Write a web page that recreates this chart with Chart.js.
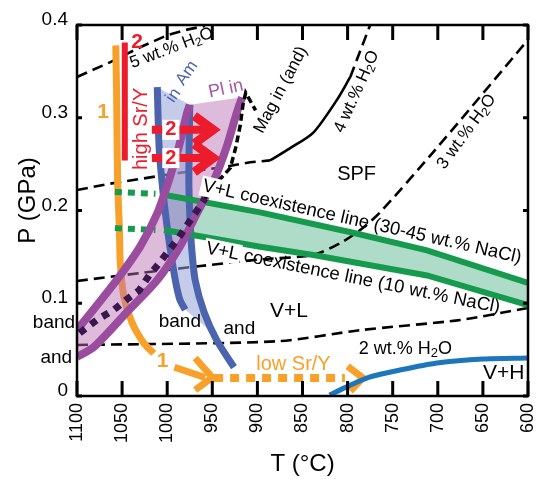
<!DOCTYPE html>
<html>
<head>
<meta charset="utf-8">
<script src="https://cdn.jsdelivr.net/npm/chart.js"></script>
<style>
html, body { margin: 0; padding: 0; background: #fff; }
</style>
</head>
<body>
<canvas id="pt" width="537" height="479"></canvas>
<script>
// axis ticks
const xTicks = [1100, 1050, 1000, 950, 900, 850, 800, 750, 700, 650, 600];
const yTicks = ['0', '0.1', '0.2', '0.3', '0.4'];

// [T (°C), P (GPa)]
const h2o5 = [[1100, 0.344], [1063, 0.360], [1030, 0.376], [1000, 0.389], [978, 0.395], [958, 0.399]];
const h2o4 = [[1100, 0.222], [1063, 0.229], [1030, 0.234], [991, 0.240], [936, 0.247], [908, 0.252], [886, 0.254]];
const magSolid = [[886, 0.254], [864, 0.267], [838, 0.284], [812, 0.319], [797, 0.344]];
const h2o4Top = [[797, 0.344], [775, 0.400]];
const h2o3 = [[1100, 0.124], [1026, 0.133], [900, 0.147], [838, 0.152], [808, 0.165], [786, 0.179], [764, 0.198], [705, 0.263], [600, 0.384]];
const h2o2 = [[1100, 0.055], [878, 0.059], [786, 0.071], [675, 0.082], [600, 0.095]];

// V+L coexistence lines
const vl30 = [[1003.5, 0.217], [897, 0.198], [794, 0.176], [712, 0.157], [600, 0.122]];
const vl10 = [[1003.5, 0.179], [897, 0.161], [838, 0.152], [712, 0.130], [600, 0.098]];
const vl30Dots = [[1058, 0.220], [1013, 0.218]];
const vl10Dots = [[1058, 0.181], [1013, 0.179]];

// Pl in band
const plLeft = [[1100, 0.071], [1056, 0.125], [1030, 0.161], [1011, 0.197], [998, 0.233], [987, 0.269], [978, 0.305], [975, 0.314]];
const plRight = [[1100, 0.042], [1081, 0.053], [1045, 0.090], [1011, 0.125], [986, 0.161], [967, 0.197], [948, 0.233], [934, 0.269], [923, 0.305], [917, 0.322]];

// Am in band
const amLeft = [[1011, 0.333], [1009, 0.269], [1006, 0.233], [1002, 0.197], [997, 0.161], [991, 0.125], [986, 0.104], [980, 0.093]];
const amRight = [[975, 0.314], [976, 0.233], [975, 0.197], [973, 0.161], [969, 0.125], [959, 0.090], [945, 0.060], [926, 0.031]];
const amFoot = [953, 0.071];

// Mag in (and)
const magDots = [[1097, 0.068], [1078, 0.082], [1059, 0.093], [1045, 0.104], [1031, 0.114], [1020, 0.130], [1009, 0.143], [998, 0.157], [987, 0.171], [976, 0.187], [958, 0.213]];
const magDash = [[958, 0.213], [944, 0.231], [930, 0.246], [924, 0.268], [919, 0.292], [916, 0.314], [913, 0.327], [902, 0.308]];

// path 1 (orange)
const path1 = [[1057, 0.378], [1056, 0.320], [1055, 0.233], [1053, 0.180], [1052, 0.143], [1048, 0.107], [1039, 0.079], [1026, 0.057], [1015, 0.046]];
const path1Arrow = [[992, 0.031], [958, 0.020]];
const path1Head = [[969, 0.041], [950, 0.020], [969, 0.0065]];
const lowSrY = [[948, 0.0194], [803, 0.0194]];
const lowHead = [[800, 0.032], [783, 0.0194], [797, 0.0054]];

// path 2 (red)
const path2 = [[1047, 0.381], [1047, 0.254]];
const arrowA = [[1017, 0.287], [955, 0.287]];
const arrowB = [[1017, 0.2565], [955, 0.2565]];
const headA = [[970, 0.302], [949, 0.287], [970, 0.272]];
const headB = [[970, 0.2715], [949, 0.2565], [970, 0.2415]];

// V+H boundary
const vh = [[820, 0.001], [803, 0.009], [775, 0.0205], [742, 0.028], [701, 0.0356], [650, 0.040], [600, 0.041]];

const ORANGE = '#f7a12a', RED = '#ec1c2d', PURPLE = '#9a4d9e', BLUE = '#4c63ae', GREEN = '#169a4d';

const pts = a => a.map(([x, y]) => ({x, y}));
function ln(data, color, width, extra) {
    return Object.assign({
        data: pts(data), borderColor: color, borderWidth: width,
        pointRadius: 0, fill: false, tension: 0
    }, extra || {});
}
function shape(poly, color) {
    const p = poly.concat([poly[0]]);
    return { data: pts(p), borderColor: 'transparent', borderWidth: 0, backgroundColor: color, fill: 'shape', pointRadius: 0, tension: 0 };
}
const dash = { borderDash: [11, 6] };
const curve = { tension: 0.25 };

// bottom first
const datasets = [
    shape(vl30.concat(vl10.slice().reverse()), '#afdcc8'),
    ln(h2o5, '#000', 2.6, dash),
    ln(h2o4, '#000', 2.6, dash),
    ln(magSolid, '#000', 2.6, curve),
    ln(h2o4Top, '#000', 2.6, dash),
    ln(h2o3, '#000', 2.6, Object.assign({tension: 0.25}, dash)),
    ln(h2o2, '#000', 2.6, Object.assign({tension: 0.25}, dash)),
    ln(path1, ORANGE, 7, curve),
    ln(path1Arrow, ORANGE, 7),
    ln(path1Head, ORANGE, 7),
    ln(lowSrY, ORANGE, 8, {borderDash: [9, 7]}),
    ln(lowHead, ORANGE, 7),
    shape(plLeft.concat(plRight.slice().reverse()), 'rgba(188,110,178,0.47)'),
    shape(amLeft.concat([amFoot], amRight.slice(0, 6).reverse()), 'rgba(150,162,215,0.55)'),
    ln(amLeft, BLUE, 7, curve),
    ln(amRight, BLUE, 7, curve),
    ln(vl30Dots, GREEN, 6, {borderDash: [7, 6]}),
    ln(vl10Dots, GREEN, 6, {borderDash: [7, 6]}),
    ln(vl30, GREEN, 6),
    ln(vl10, GREEN, 6),
    ln(plLeft, PURPLE, 8, curve),
    ln(plRight, PURPLE, 8, curve),
    ln(magDots, '#3b1650', 7, {borderDash: [7, 7]}),
    ln(magDash, '#000', 3.5, {borderDash: [7, 4]}),
    ln(path2, RED, 6),
    ln(arrowA, RED, 8),
    ln(arrowB, RED, 8),
    ln(headA, RED, 9),
    ln(headB, RED, 9),
    ln(vh, '#1c76bc', 5, curve)
];
datasets.forEach((d, i) => { d.order = datasets.length - i; });

// text labels, placed in T/P units
const notes = [
    {t: '5 wt.% H_2O', x: 995, y: 0.375, rot: -21, size: 17},
    {t: '4 wt.% H_2O', x: 790, y: 0.328, rot: -66, size: 17},
    {t: '3 wt.% H_2O', x: 668, y: 0.285, rot: -54, size: 17},
    {t: 'Mag in (and)', x: 874, y: 0.330, rot: -62, size: 17},
    {t: 'SPF', x: 790, y: 0.239, size: 20},
    {t: 'V+L coexistence line (30-45 wt.% NaCl)', x: 784, y: 0.1876, rot: 12.8, size: 18.5, bg: 'V+L'},
    {t: 'V+L coexistence line (10 wt.% NaCl)', x: 794, y: 0.1272, rot: 11.5, size: 18.5, bg: 'V+L'},
    {t: 'V+L', x: 865, y: 0.0916, size: 21},
    {t: '2 wt.% H_2O', x: 736, y: 0.0507, size: 18},
    {t: 'V+H', x: 627, y: 0.0248, size: 21},
    {t: 'low Sr/Y', x: 860, y: 0.0345, size: 20, color: ORANGE},
    {t: 'band', x: 986, y: 0.080, size: 19},
    {t: 'and', x: 920, y: 0.073, size: 19},
    {t: 'band', x: 1125.5, y: 0.0787, size: 19},
    {t: 'and', x: 1123, y: 0.041, size: 19},
    {t: '1', x: 1071, y: 0.306, size: 21, bold: true, color: ORANGE},
    {t: '1', x: 1005, y: 0.037, size: 21, bold: true, color: ORANGE},
    {t: '2', x: 1033.5, y: 0.3817, size: 21, bold: true, color: RED},
    {t: '2', x: 996, y: 0.287, size: 20, bold: true, color: RED, box: true},
    {t: '2', x: 996, y: 0.2565, size: 20, bold: true, color: RED, box: true},
    {t: 'high Sr/Y', x: 1029, y: 0.288, rot: -90, size: 20, color: RED},
    {t: 'Am', x: 978, y: 0.348, rot: -55, size: 17, color: BLUE},
    {t: 'in', x: 993, y: 0.324, rot: -55, size: 17, color: BLUE},
    {t: 'Pl in', x: 935, y: 0.331, rot: -12, size: 18, color: '#a455a6'}
];

const FAM = '"Liberation Sans", Arial, sans-serif';
function drawNote(ctx, n, xs, ys) {
    const px = xs.getPixelForValue(n.x), py = ys.getPixelForValue(n.y);
    const size = n.size || 18;
    const font = (n.bold ? 'bold ' : '') + size + 'px ' + FAM;
    const subFont = (n.bold ? 'bold ' : '') + Math.round(size * 0.7) + 'px ' + FAM;
    const parts = n.t.split(/_(\d)/);
    ctx.save();
    ctx.translate(px, py);
    ctx.rotate((n.rot || 0) * Math.PI / 180);
    ctx.textBaseline = 'middle';
    ctx.textAlign = 'left';
    let w = 0;
    parts.forEach((p, i) => { ctx.font = i % 2 ? subFont : font; w += ctx.measureText(p).width; });
    let x0 = -w / 2;
    ctx.fillStyle = '#fff';
    if (n.box) ctx.fillRect(x0 - 3, -size * 0.5, w + 6, size * 1.0);
    if (n.bg) { ctx.font = font; ctx.fillRect(x0 - 2, -size * 0.55, ctx.measureText(n.bg).width + 4, size * 1.1); }
    ctx.fillStyle = n.color || '#000';
    parts.forEach((p, i) => {
        ctx.font = i % 2 ? subFont : font;
        ctx.fillText(p, x0, i % 2 ? size * 0.25 : 0);
        x0 += ctx.measureText(p).width;
    });
    ctx.restore();
}

const frame = {
    id: 'frame',
    afterDatasetsDraw(chart) {
        const {ctx, chartArea: a, scales: {x, y}} = chart;
        ctx.save();
        ctx.strokeStyle = '#000';
        ctx.lineWidth = 2.5;
        ctx.strokeRect(a.left, a.top, a.right - a.left, a.bottom - a.top);
        ctx.beginPath();
        x.ticks.forEach(t => {
            const px = x.getPixelForValue(t.value);
            ctx.moveTo(px, a.bottom); ctx.lineTo(px, a.bottom - 15);
            ctx.moveTo(px, a.top); ctx.lineTo(px, a.top + 15);
        });
        y.ticks.forEach(t => {
            const py = y.getPixelForValue(t.value);
            ctx.moveTo(a.left, py); ctx.lineTo(a.left + 5, py);
            ctx.moveTo(a.right, py); ctx.lineTo(a.right - 5, py);
        });
        ctx.lineWidth = 3;
        ctx.stroke();
        ctx.restore();
    },
    afterDraw(chart) {
        const {ctx, scales: {x, y}} = chart;
        notes.forEach(n => drawNote(ctx, n, x, y));
    }
};

Chart.defaults.font.family = FAM;
Chart.defaults.color = '#000';

new Chart(document.getElementById('pt'), {
    type: 'line',
    data: { datasets },
    options: {
        responsive: false,
        animation: false,
        events: [],
        layout: { padding: { top: 25, right: 9, left: 0, bottom: 0 } },
        plugins: { legend: { display: false }, tooltip: { enabled: false } },
        scales: {
            x: {
                type: 'linear', reverse: true, min: 600, max: 1100,
                afterBuildTicks: s => { s.ticks = xTicks.map(v => ({value: v})); },
                ticks: { font: {size: 18}, color: '#000', minRotation: 90, maxRotation: 90, padding: 7, autoSkip: false, callback: v => String(v) },
                grid: { display: false, drawTicks: false },
                border: { display: false },
                title: { display: true, text: 'T (°C)', font: {size: 24}, color: '#000', padding: {top: 0, bottom: 0} },
                afterFit: s => { s.height = 83; s.paddingLeft = 0; s.paddingRight = 0; }
            },
            y: {
                min: 0, max: 0.4,
                afterBuildTicks: s => { s.ticks = yTicks.map(l => ({value: parseFloat(l)})); },
                ticks: { font: {size: 19}, color: '#000', padding: 9, labelOffset: -5, callback: (v, i) => yTicks[i] },
                grid: { display: false, drawTicks: false },
                border: { display: false },
                title: { display: true, text: '   P (GPa)', font: {size: 24}, color: '#000', padding: {top: 14, bottom: 0} },
                afterFit: s => { s.width = 77; s.paddingTop = 0; s.paddingBottom = 0; }
            }
        }
    },
    plugins: [frame]
});
</script>
</body>
</html>
